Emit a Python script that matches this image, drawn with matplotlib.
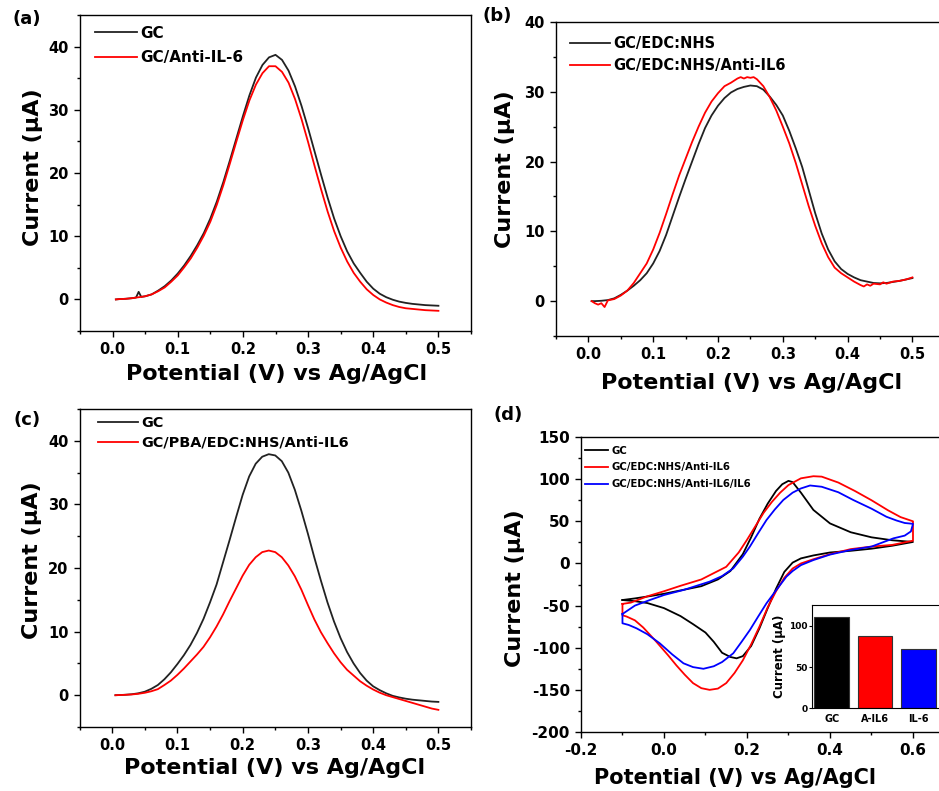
import matplotlib
matplotlib.use("Agg")
import matplotlib.pyplot as plt
from matplotlib.ticker import MultipleLocator

plt.rcParams["font.family"] = "DejaVu Sans"
plt.rcParams["font.weight"] = "bold"
plt.rcParams["axes.labelweight"] = "bold"
plt.rcParams["axes.unicode_minus"] = False

# common potential grid for the DPV curves (V)
dpv_potential = [0.005, 0.01, 0.02, 0.03, 0.04, 0.05, 0.06, 0.07, 0.08, 0.09,
                 0.10, 0.11, 0.12, 0.13, 0.14, 0.15, 0.16, 0.17, 0.18, 0.19,
                 0.20, 0.21, 0.22, 0.23, 0.24, 0.25, 0.26, 0.27, 0.28, 0.29,
                 0.30, 0.31, 0.32, 0.33, 0.34, 0.35, 0.36, 0.37, 0.38, 0.39,
                 0.40, 0.41, 0.42, 0.43, 0.44, 0.45, 0.46, 0.47, 0.48, 0.49, 0.50]

# (a)
a_gc_potential = [0.005, 0.01, 0.02, 0.03, 0.036, 0.04, 0.044, 0.05, 0.06, 0.07, 0.08, 0.09,
                  0.10, 0.11, 0.12, 0.13, 0.14, 0.15, 0.16, 0.17, 0.18, 0.19,
                  0.20, 0.21, 0.22, 0.23, 0.24, 0.25, 0.26, 0.27, 0.28, 0.29,
                  0.30, 0.31, 0.32, 0.33, 0.34, 0.35, 0.36, 0.37, 0.38, 0.39,
                  0.40, 0.41, 0.42, 0.43, 0.44, 0.45, 0.46, 0.47, 0.48, 0.49, 0.50]
a_gc = [0.0, 0.05, 0.1, 0.2, 0.3, 1.2, 0.4, 0.5, 0.8, 1.4, 2.1, 3.0,
        4.1, 5.4, 6.9, 8.6, 10.5, 12.8, 15.5, 18.6, 22.0, 25.5,
        29.0, 32.3, 35.1, 37.1, 38.3, 38.7, 37.9, 36.2, 33.7, 30.6,
        27.1, 23.4, 19.7, 16.1, 12.8, 10.0, 7.6, 5.7, 4.2, 2.8,
        1.7, 0.9, 0.35, -0.05, -0.35, -0.55, -0.7, -0.8, -0.9, -0.95, -1.0]
a_anti = [0.0, 0.05, 0.1, 0.2, 0.35, 0.5, 0.8, 1.3, 1.9, 2.8,
          3.8, 5.1, 6.5, 8.2, 10.1, 12.3, 15.0, 18.1, 21.5, 25.0,
          28.4, 31.5, 34.0, 35.8, 36.9, 36.9, 36.0, 34.3, 31.7, 28.5,
          24.9, 21.1, 17.4, 13.9, 10.8, 8.2, 6.0, 4.2, 2.8, 1.6,
          0.7, 0.0, -0.5, -0.9, -1.2, -1.4, -1.5, -1.6, -1.7, -1.75, -1.8]

# (b)
b_edc = [0.0, 0.0, 0.05, 0.15, 0.4, 0.9, 1.5, 2.2, 3.0, 4.0,
         5.4, 7.2, 9.5, 12.2, 14.9, 17.5, 20.0, 22.5, 24.8, 26.6,
         28.0, 29.1, 29.9, 30.4, 30.7, 30.9, 30.8, 30.3, 29.3, 28.1,
         26.6, 24.4, 21.9, 19.2, 15.9, 12.6, 9.7, 7.4, 5.7, 4.6,
         3.9, 3.4, 3.0, 2.8, 2.6, 2.55, 2.6, 2.75, 2.9, 3.1, 3.3]
b_anti_potential = [0.005, 0.01, 0.015, 0.02, 0.025, 0.03, 0.035, 0.04, 0.05, 0.06, 0.07, 0.08, 0.09,
                    0.10, 0.11, 0.12, 0.13, 0.14, 0.15, 0.16, 0.17, 0.18, 0.19,
                    0.20, 0.21, 0.22, 0.23, 0.235, 0.24, 0.245, 0.25, 0.255, 0.26, 0.27, 0.28, 0.29,
                    0.30, 0.31, 0.32, 0.33, 0.34, 0.35, 0.36, 0.37, 0.38, 0.39,
                    0.40, 0.41, 0.42, 0.425, 0.43, 0.435, 0.44, 0.45, 0.455, 0.46, 0.47, 0.48, 0.49, 0.50]
b_anti = [0.0, -0.3, -0.5, -0.3, -0.85, 0.1, 0.2, 0.3, 0.8, 1.5, 2.6, 4.0, 5.4,
          7.4, 9.8, 12.5, 15.3, 18.0, 20.4, 22.8, 25.0, 27.0, 28.6,
          29.8, 30.8, 31.3, 31.9, 32.1, 31.9, 32.1, 32.0, 32.1, 31.8, 30.8, 29.2, 27.3,
          25.0, 22.6, 19.8, 16.7, 13.6, 10.8, 8.3, 6.3, 4.8, 4.0,
          3.4, 2.8, 2.3, 2.1, 2.4, 2.2, 2.5, 2.4, 2.7, 2.5, 2.8, 2.9, 3.1, 3.4]

# (c)
c_gc = [0.0, 0.02, 0.07, 0.15, 0.3, 0.55, 1.0, 1.6, 2.5, 3.6,
        4.9, 6.3, 7.9, 9.8, 12.0, 14.6, 17.4, 20.9, 24.4, 28.0,
        31.5, 34.4, 36.4, 37.5, 37.9, 37.7, 36.8, 35.0, 32.3, 29.0,
        25.4, 21.6, 18.0, 14.6, 11.6, 9.0, 6.8, 5.0, 3.5, 2.3,
        1.4, 0.8, 0.3, -0.1, -0.35, -0.55, -0.7, -0.8, -0.9, -1.0, -1.05]
c_pba = [0.0, 0.02, 0.06, 0.12, 0.22, 0.38, 0.62, 0.95, 1.6, 2.3,
         3.2, 4.2, 5.3, 6.4, 7.6, 9.1, 10.8, 12.7, 14.8, 16.8,
         18.8, 20.5, 21.7, 22.5, 22.75, 22.5, 21.7, 20.4, 18.7, 16.6,
         14.2, 11.9, 9.9, 8.2, 6.6, 5.2, 4.0, 3.1, 2.2, 1.5,
         0.9, 0.4, 0.0, -0.3, -0.6, -0.9, -1.2, -1.5, -1.8, -2.1, -2.3]

# (d) cyclic voltammograms, forward then reverse scan
cv_gc_potential = [-0.10, -0.07, -0.03, 0.00, 0.04, 0.09, 0.13, 0.16, 0.19, 0.21, 0.23, 0.25,
                   0.27, 0.285, 0.30, 0.31, 0.33, 0.36, 0.40, 0.45, 0.50, 0.55, 0.60,
                   0.55, 0.50, 0.45, 0.40, 0.36, 0.33, 0.31, 0.29, 0.27, 0.25, 0.23, 0.21,
                   0.19, 0.175, 0.16, 0.14, 0.12, 0.10, 0.07, 0.04, 0.00, -0.04, -0.07, -0.10]
cv_gc = [-43.4, -41.5, -38.5, -36.0, -32.0, -27.0, -19.0, -9.0, 11.0, 31.0, 53.0, 71.0,
         86.0, 94.0, 98.0, 96.5, 84.0, 63.5, 47.5, 37.0, 31.0, 27.5, 25.5,
         21.0, 17.5, 15.0, 13.0, 9.5, 6.0, 1.0, -10.0, -30.0, -53.0, -77.0, -98.0,
         -110.0, -112.6, -111.0, -106.0, -93.0, -82.0, -72.0, -62.5, -53.0, -47.0, -44.8, -43.4]

cv_anti_potential = [-0.10, -0.08, -0.04, 0.00, 0.04, 0.09, 0.13, 0.15, 0.18, 0.20, 0.22, 0.24,
                     0.26, 0.28, 0.30, 0.33, 0.36, 0.38, 0.42, 0.46, 0.50, 0.54, 0.57, 0.60,
                     0.60, 0.55, 0.50, 0.45, 0.40, 0.36, 0.33, 0.31, 0.29, 0.27, 0.25, 0.23,
                     0.21, 0.19, 0.17, 0.15, 0.13, 0.11, 0.09, 0.07, 0.05, 0.03, 0.01,
                     -0.02, -0.05, -0.07, -0.09, -0.10, -0.10]
cv_anti = [-48.0, -46.5, -39.0, -33.0, -26.5, -19.0, -9.0, -4.0, 13.0, 28.0, 44.0, 60.0,
           73.0, 84.0, 93.0, 101.0, 103.5, 103.0, 96.0, 86.0, 75.0, 63.0, 55.0, 50.0,
           27.0, 22.0, 20.0, 17.0, 11.0, 5.0, 0.0, -6.0, -17.0, -33.0, -52.0, -75.0,
           -96.0, -115.0, -130.0, -142.0, -148.5, -150.0, -148.0, -142.0, -132.0, -121.0, -109.0,
           -92.0, -76.0, -67.5, -63.0, -61.5, -48.0]

cv_il6_potential = [-0.10, -0.07, -0.034, 0.00, 0.047, 0.11, 0.14, 0.167, 0.19, 0.207, 0.227, 0.247,
                    0.267, 0.2875, 0.31, 0.33, 0.352, 0.38, 0.42, 0.456, 0.50, 0.536, 0.56, 0.58, 0.60,
                    0.595, 0.58, 0.553, 0.50, 0.45, 0.40, 0.36, 0.33, 0.31, 0.295, 0.27, 0.247,
                    0.227, 0.207, 0.187, 0.167, 0.14, 0.12, 0.095, 0.07, 0.047, 0.02, -0.01,
                    -0.04, -0.066, -0.085, -0.10, -0.10]
cv_il6 = [-60.0, -50.0, -43.4, -37.5, -31.5, -21.6, -15.0, -5.8, 8.0, 20.0, 36.0, 51.5,
          64.0, 75.3, 84.0, 89.0, 92.5, 91.0, 84.5, 75.3, 65.0, 55.4, 51.0, 48.0, 47.0,
          38.0, 33.0, 29.8, 20.0, 16.0, 10.5, 4.0, -2.0, -9.0, -15.7, -32.0, -47.3,
          -63.0, -79.0, -93.0, -106.6, -117.0, -122.0, -125.0, -123.0, -118.5, -108.0, -94.8,
          -84.0, -77.0, -73.0, -71.0, -60.0]

# inset bar chart
bar_labels = ["GC", "A-IL6", "IL-6"]
bar_values = [111, 88, 72]
bar_colors = ["black", "red", "blue"]

cv_xticks = [-0.2, 0.0, 0.2, 0.4, 0.6]

xlabel = "Potential (V) vs Ag/AgCl"
ylabel = "Current (\u03bcA)"


def style_axes(ax, xlim, ylim, xmaj, xmin, ymaj, ymin, size=10.5):
    ax.set_xlim(*xlim)
    ax.set_ylim(*ylim)
    ax.xaxis.set_major_locator(MultipleLocator(xmaj))
    ax.xaxis.set_minor_locator(MultipleLocator(xmin))
    ax.yaxis.set_major_locator(MultipleLocator(ymaj))
    ax.yaxis.set_minor_locator(MultipleLocator(ymin))
    ax.tick_params(which="both", direction="out", top=False, right=False,
                   width=1.0, labelsize=size)
    ax.tick_params(which="major", length=4.5)
    ax.tick_params(which="minor", length=2.5)
    for s in ax.spines.values():
        s.set_linewidth(1.0)


fig = plt.figure(figsize=(9.39, 7.91), dpi=100)

# panel (a)
ax = fig.add_axes([0.0852, 0.5815, 0.4164, 0.3995])
ax.plot(a_gc_potential, a_gc, color="#222222", lw=1.3, label="GC")
ax.plot(dpv_potential, a_anti, color="red", lw=1.3, label="GC/Anti-IL-6")
style_axes(ax, (-0.05, 0.55), (-5, 45), 0.1, 0.05, 10, 5)
ax.set_xlabel(xlabel, fontsize=16)
ax.set_ylabel(ylabel, fontsize=16)
ax.xaxis.set_label_coords(0.503, -0.105)
ax.yaxis.set_label_coords(-0.095, 0.52)
ax.legend(loc="upper left", bbox_to_anchor=(0.038, 0.966), frameon=False, fontsize=11,
          borderpad=0, borderaxespad=0, handlelength=2.75, handletextpad=0.2, labelspacing=0.62)
fig.text(0.029, 0.976, "(a)", fontsize=13, ha="center", va="center")

# panel (b)
ax = fig.add_axes([0.5921, 0.5752, 0.4141, 0.3970])
ax.plot(dpv_potential, b_edc, color="#222222", lw=1.3, label="GC/EDC:NHS")
ax.plot(b_anti_potential, b_anti, color="red", lw=1.3, label="GC/EDC:NHS/Anti-IL6")
style_axes(ax, (-0.05, 0.55), (-5, 40), 0.1, 0.05, 10, 5)
ax.set_xlabel(xlabel, fontsize=16)
ax.set_ylabel(ylabel, fontsize=16)
ax.xaxis.set_label_coords(0.503, -0.117)
ax.yaxis.set_label_coords(-0.105, 0.532)
ax.legend(loc="upper left", bbox_to_anchor=(0.036, 0.955), frameon=False, fontsize=10.5,
          borderpad=0, borderaxespad=0, handlelength=2.75, handletextpad=0.2, labelspacing=0.45)
fig.text(0.530, 0.980, "(b)", fontsize=13, ha="center", va="center")

# panel (c)
ax = fig.add_axes([0.0847, 0.0809, 0.4169, 0.4020])
ax.plot(dpv_potential, c_gc, color="#222222", lw=1.3, label="GC")
ax.plot(dpv_potential, c_pba, color="red", lw=1.3, label="GC/PBA/EDC:NHS/Anti-IL6")
style_axes(ax, (-0.05, 0.55), (-5, 45), 0.1, 0.05, 10, 5)
ax.set_xlabel(xlabel, fontsize=16)
ax.set_ylabel(ylabel, fontsize=16)
ax.xaxis.set_label_coords(0.499, -0.098)
ax.yaxis.set_label_coords(-0.096, 0.524)
ax.legend(loc="upper left", bbox_to_anchor=(0.046, 0.978), frameon=False, fontsize=10.4,
          borderpad=0, borderaxespad=0, handlelength=2.8, handletextpad=0.2, labelspacing=0.4)
fig.text(0.029, 0.469, "(c)", fontsize=13, ha="center", va="center")

# panel (d)
ax = fig.add_axes([0.6187, 0.0746, 0.4420, 0.3729])
ax.plot(cv_gc_potential, cv_gc, color="black", lw=1.3, label="GC")
ax.plot(cv_anti_potential, cv_anti, color="red", lw=1.3, label="GC/EDC:NHS/Anti-IL6")
ax.plot(cv_il6_potential, cv_il6, color="blue", lw=1.3, label="GC/EDC:NHS/Anti-IL6/IL6")
style_axes(ax, (-0.2, 0.8), (-200, 150), 0.2, 0.1, 50, 25, size=11)
ax.set_xticks(cv_xticks)
ax.set_xlabel(xlabel, fontsize=15)
ax.set_ylabel(ylabel, fontsize=16)
ax.xaxis.set_label_coords(0.371, -0.122)
ax.yaxis.set_label_coords(-0.135, 0.488)
ax.legend(loc="upper left", bbox_to_anchor=(0.0096, 0.97), frameon=False, fontsize=7.3,
          borderpad=0, borderaxespad=0, handlelength=2.3, handletextpad=0.3, labelspacing=0.65)
fig.text(0.541, 0.475, "(d)", fontsize=13, ha="center", va="center")

# inset bars
ins = fig.add_axes([0.8644, 0.1045, 0.1416, 0.1306])
ins.bar([1, 2, 3], bar_values, width=0.8, color=bar_colors, edgecolor="#333333", linewidth=0.8)
ins.set_xlim(0.54, 3.6)
ins.set_ylim(0, 125)
ins.set_xticks([1, 2, 3])
ins.set_xticklabels(bar_labels)
ins.set_yticks([0, 50, 100])
ins.tick_params(axis="x", length=0, labelsize=7, pad=4)
ins.tick_params(axis="y", direction="out", length=2, width=0.8, labelsize=6.5, pad=1)
ins.set_ylabel(ylabel, fontsize=8.5, labelpad=2)
for s in ins.spines.values():
    s.set_linewidth(0.8)

fig.savefig("out.png", dpi=100)
